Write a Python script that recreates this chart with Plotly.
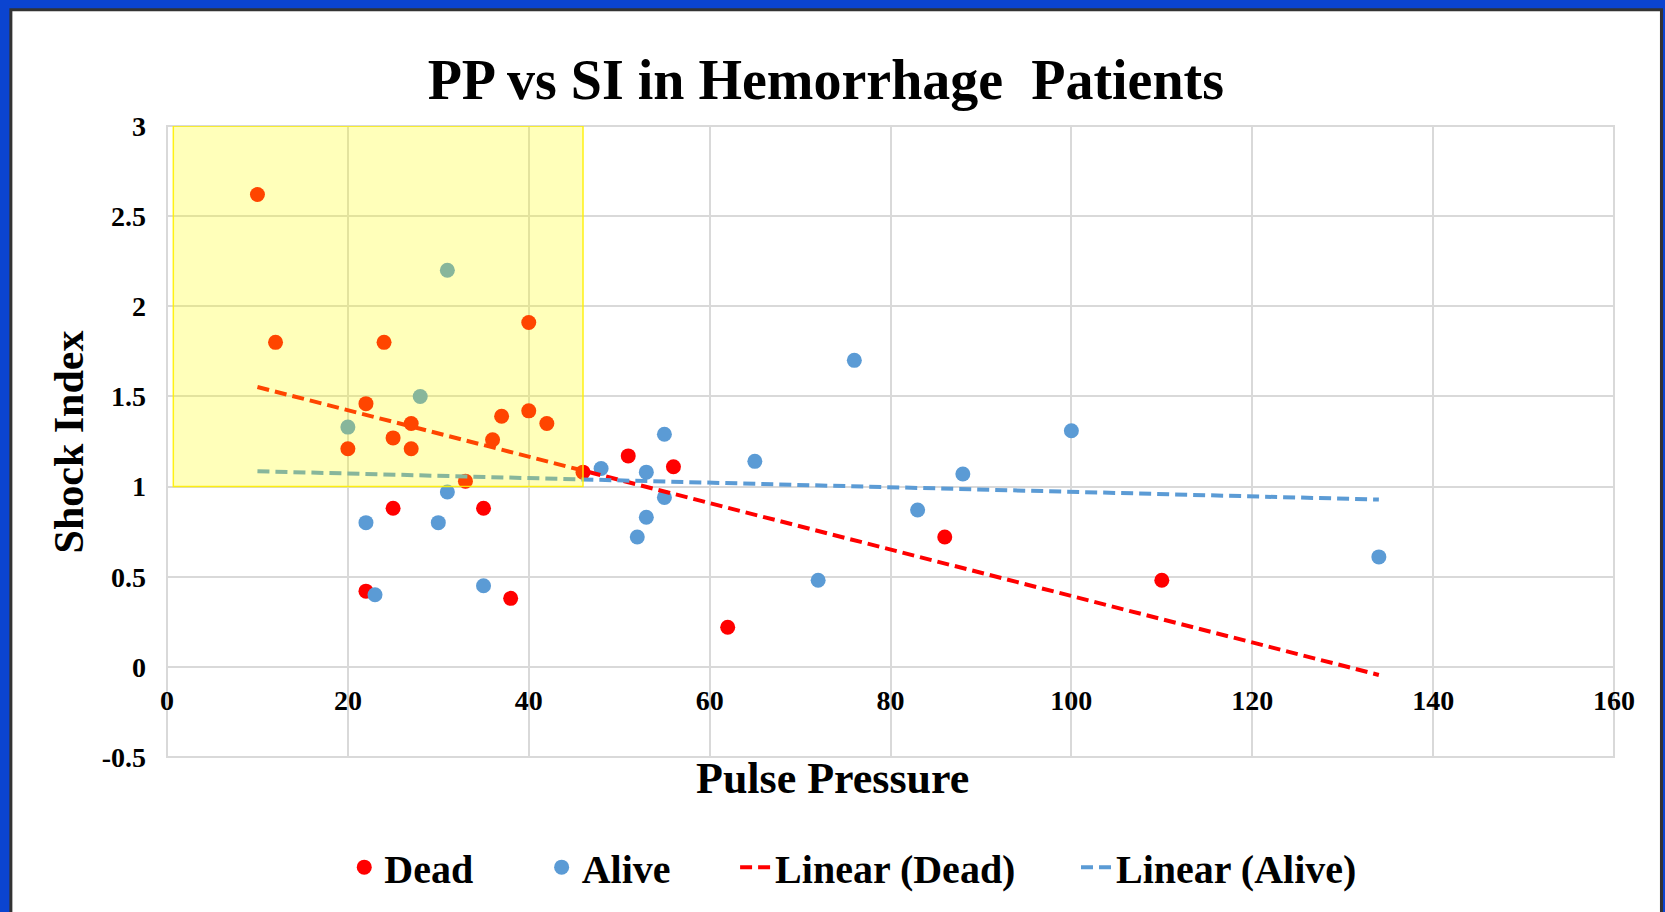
import numpy as np
import plotly.graph_objects as go

# ---- data ----
dead_pp = [10, 12, 20, 22, 22, 24, 25, 25, 27, 27, 33, 35, 36, 37, 38, 40, 40, 42, 46, 51, 56, 62, 86, 110]
dead_si = [2.62, 1.80, 1.21, 1.46, 0.42, 1.80, 1.27, 0.88, 1.35, 1.21, 1.03, 0.88, 1.26, 1.39, 0.38, 1.91, 1.42, 1.35, 1.08, 1.17, 1.11, 0.22, 0.72, 0.48]

alive_pp = [20, 22, 23, 28, 30, 31, 31, 35, 48, 52, 53, 53, 55, 55, 65, 72, 76, 83, 88, 100, 134]
alive_si = [1.33, 0.80, 0.40, 1.50, 0.80, 2.20, 0.97, 0.45, 1.10, 0.72, 1.08, 0.83, 1.29, 0.94, 1.14, 0.48, 1.70, 0.87, 1.07, 1.31, 0.61]

x_ticks = [0, 20, 40, 60, 80, 100, 120, 140, 160]
y_ticks = [-0.5, 0, 0.5, 1, 1.5, 2, 2.5, 3]
y_tick_labels = ["-0.5", "0", "0.5", "1", "1.5", "2", "2.5", "3"]

# highlighted region (yellow box drawn on the slide)
hl_x = [0.7, 46]
hl_y = [1.0, 3.0]

# ---- linear trendlines (least squares) ----
span = np.array([min(dead_pp + alive_pp), max(dead_pp + alive_pp)], dtype=float)
kd = np.polyfit(dead_pp, dead_si, 1)
ka = np.polyfit(alive_pp, alive_si, 1)

FONT = "Liberation Serif"
RED = "#FF0000"
BLUE = "#5B9BD5"

fig = go.Figure()
fig.add_trace(go.Scatter(x=dead_pp, y=dead_si, mode="markers", name="Dead", showlegend=True,
                         marker=dict(color=RED, size=15), legend="legend"))
fig.add_trace(go.Scatter(x=alive_pp, y=alive_si, mode="markers", name="Alive", showlegend=True,
                         marker=dict(color=BLUE, size=15), legend="legend2"))
fig.add_trace(go.Scatter(x=span, y=np.polyval(kd, span), mode="lines", name="Linear (Dead)",
                         showlegend=True,
                         line=dict(color=RED, width=4, dash="12px,6px"), legend="legend3"))
fig.add_trace(go.Scatter(x=span, y=np.polyval(ka, span), mode="lines", name="Linear (Alive)",
                         showlegend=True,
                         line=dict(color=BLUE, width=4, dash="12px,6px"), legend="legend4"))

leg_font = dict(family=FONT, size=40, color="black", weight="bold")
leg_y = -0.1746
def leg(x):
    return dict(orientation="h", x=x, y=leg_y, xanchor="left", yanchor="middle", visible=True,
                bgcolor="rgba(0,0,0,0)", font=leg_font, borderwidth=0)

tick_font = dict(family=FONT, size=28, color="black", weight="bold")
grid = "#D9D9D9"

fig.update_layout(
    width=1665, height=912,
    showlegend=True,
    margin=dict(l=167, r=51, t=126, b=152),
    paper_bgcolor="#0b44d0",
    plot_bgcolor="white",
    title=dict(text="PP vs SI in Hemorrhage  Patients", x=0.496, xref="container", xanchor="center",
               y=1 - 79 / 912, yref="container", yanchor="middle",
               font=dict(family=FONT, size=56, color="black", weight="bold")),
    xaxis=dict(range=[0, 160], tickvals=x_ticks, showgrid=True, gridcolor=grid, gridwidth=2,
               zeroline=False, showline=False, anchor="free", position=0.5 / 3.5,
               tickfont=tick_font, ticks="", ticklabelstandoff=14),
    yaxis=dict(range=[-0.5, 3], tickvals=y_ticks, ticktext=y_tick_labels, showgrid=True,
               gridcolor=grid, gridwidth=2, zeroline=False, showline=False,
               tickfont=tick_font, ticks="", ticklabelstandoff=20),
    legend=leg(0.1225), legend2=leg(0.2589), legend3=leg(0.3926), legend4=leg(0.6282),
    shapes=[
        # white chart area with dark border
        dict(type="rect", xref="paper", yref="paper", x0=-0.1079, x1=1.0328, y0=-0.35, y1=1.1844,
             fillcolor="white", line=dict(color="#333333", width=3), layer="below"),
        # plot area frame
        dict(type="rect", xref="paper", yref="paper", x0=0, x1=1, y0=0, y1=1,
             fillcolor="rgba(0,0,0,0)", line=dict(color=grid, width=2), layer="below"),
        # translucent yellow highlight on top
        dict(type="rect", xref="x", yref="y", x0=hl_x[0], x1=hl_x[1], y0=hl_y[0], y1=hl_y[1],
             fillcolor="rgba(255,255,0,0.27)", line=dict(color="rgba(255,240,0,0.9)", width=1.5),
             layer="above"),
    ],
    annotations=[
        dict(text="Pulse Pressure", xref="paper", yref="paper", x=0.4597, y=-0.034,
             xanchor="center", yanchor="middle", showarrow=False,
             font=dict(family=FONT, size=44, color="black", weight="bold")),
        dict(text="Shock Index", xref="paper", yref="paper", x=-0.0675, y=0.499, textangle=-90,
             xanchor="center", yanchor="middle", showarrow=False,
             font=dict(family=FONT, size=42, color="black", weight="bold")),
    ],
)

# remove the default page margin so the figure sits at the window origin
fig.write_html("out.html", config={"displayModeBar": False},
               post_script="document.body.style.margin='0';")
